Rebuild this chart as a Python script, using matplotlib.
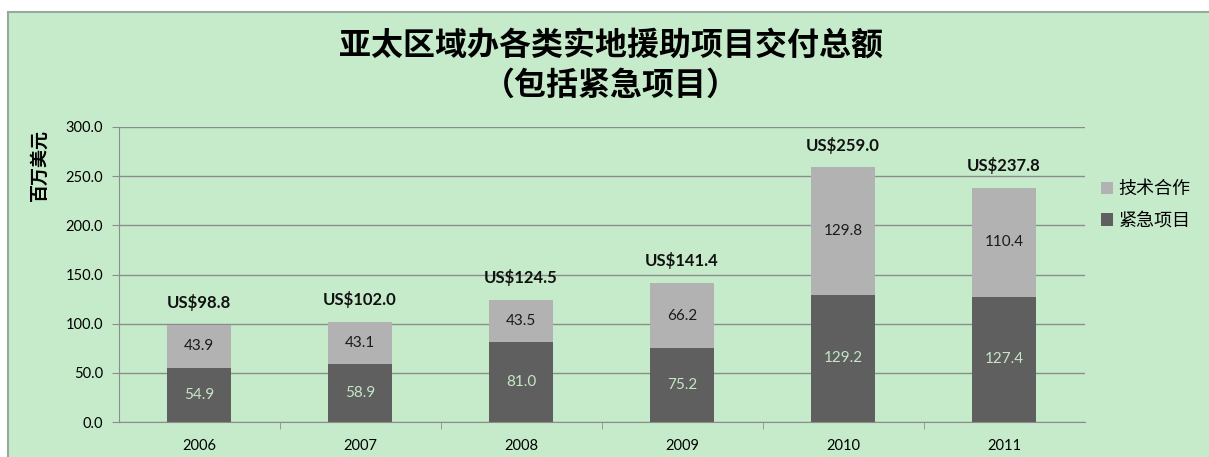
import matplotlib.pyplot as plt
from matplotlib.patches import Rectangle

plt.rcParams['font.family'] = ['Lato', 'Noto Sans CJK SC', 'DejaVu Sans']

years = ['2006', '2007', '2008', '2009', '2010', '2011']
emergency = [54.9, 58.9, 81.0, 75.2, 129.2, 127.4]
technical = [43.9, 43.1, 43.5, 66.2, 129.8, 110.4]
totals = ['US$98.8', 'US$102.0', 'US$124.5', 'US$141.4', 'US$259.0', 'US$237.8']
series_names = ['技术合作', '紧急项目']
title_lines = ['亚太区域办各类实地援助项目交付总额', '（包括紧急项目）']

bg = '#c6ebcb'
light = '#b2b2b2'
dark = '#5f5f5f'
grid_col = '#8c8c8c'

fig = plt.figure(figsize=(12.09, 4.57), dpi=100)
fig.patches.append(Rectangle((8 / 1209, -0.1), 1.1, (457 - 12) / 457 + 0.1,
                             transform=fig.transFigure, facecolor=bg,
                             edgecolor='#9aa79c', linewidth=1.5, zorder=-10))

ax = fig.add_axes([118.5 / 1209, 35 / 457, 966 / 1209, 295 / 457])
ax.set_facecolor('none')

x = list(range(len(years)))
w = 0.4
ax.bar(x, emergency, w, color=dark, zorder=3, label=series_names[1])
ax.bar(x, technical, w, bottom=emergency, color=light, zorder=3,
       label=series_names[0])

for i in x:
    ax.text(i, emergency[i] / 2, f'{emergency[i]:.1f}', ha='center', va='center',
            color='#c6e6c6', fontsize=11, zorder=4)
    ax.text(i, emergency[i] + technical[i] / 2, f'{technical[i]:.1f}', ha='center',
            va='center', color='#1a1a1a', fontsize=11, zorder=4)
    ax.annotate(totals[i], (i, emergency[i] + technical[i]), xytext=(0, 16),
                textcoords='offset points', ha='center', va='center',
                fontsize=12, fontweight='bold', color='#111111')

ax.set_ylim(0, 300)
ax.set_xlim(-0.5, len(years) - 0.5)
ax.set_yticks(range(0, 301, 50))
ax.set_yticklabels([f'{v:.1f}' for v in range(0, 301, 50)], fontsize=10.5)
ax.set_xticks(x)
ax.set_xticklabels(years, fontsize=10.5)
ax.set_xticks([i + 0.5 for i in x[:-1]], minor=True)
ax.tick_params(axis='x', which='major', length=0, pad=12)
ax.tick_params(axis='x', which='minor', length=5, color=grid_col, direction='out')
ax.tick_params(axis='y', length=5, color=grid_col, pad=6)
ax.yaxis.grid(True, color=grid_col, linewidth=1, zorder=0)
for s in ['top', 'right']:
    ax.spines[s].set_visible(False)
for s in ['left', 'bottom']:
    ax.spines[s].set_color(grid_col)

ax.set_ylabel('百万美元', fontsize=13, fontweight='bold',
              family=['Noto Sans CJK SC'])
ax.yaxis.set_label_coords(-0.072, 0.87)

handles, labels = ax.get_legend_handles_labels()
ax.legend(handles[::-1], labels[::-1], loc='center left',
          bbox_to_anchor=(1.0, 0.735), frameon=False, handlelength=0.7,
          handleheight=0.7, handletextpad=0.3, labelspacing=0.75,
          prop={'family': 'Noto Sans CJK SC', 'size': 13})

fig.text(0.505, 0.90, title_lines[0], ha='center', va='center',
         fontsize=23, fontweight='bold', family=['Noto Sans CJK SC'])
fig.text(0.505, 0.812, title_lines[1], ha='center', va='center',
         fontsize=23, fontweight='bold', family=['Noto Sans CJK SC'])

fig.savefig('out.png', dpi=100)
